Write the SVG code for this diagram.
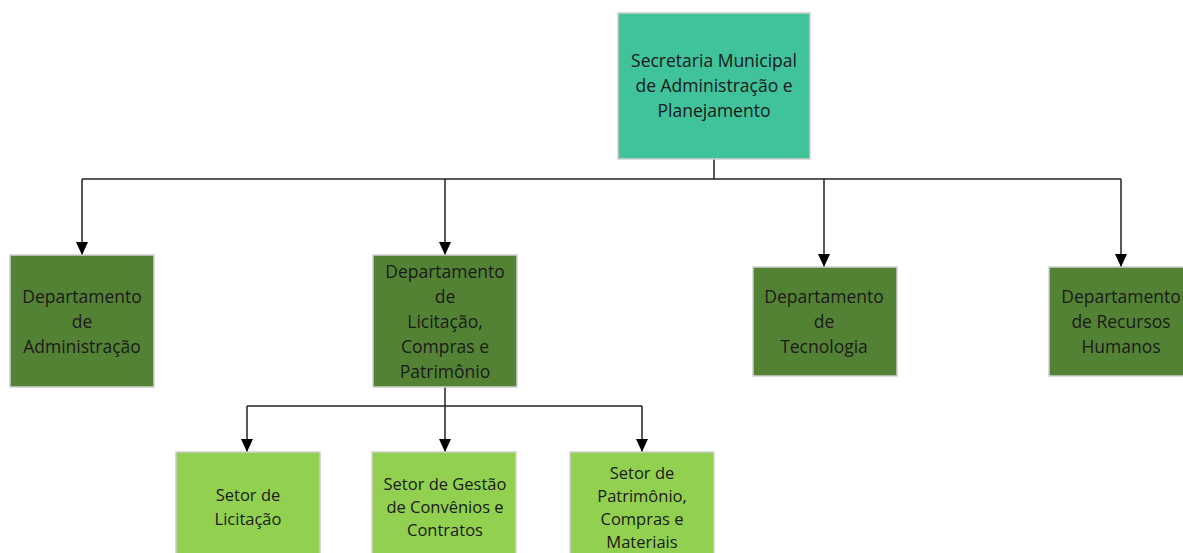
<svg xmlns="http://www.w3.org/2000/svg" width="1183" height="553" viewBox="0 0 1183 553">
<style>
.box{stroke:#d0d0d0;stroke-width:1.5}
.top{fill:#40c29a}
.dept{fill:#548235}
.setor{fill:#92d050}
text{font-family:"Open Sans","Liberation Sans",sans-serif;font-size:17.5px;fill:#1a1a1a;text-anchor:middle}
.s text{font-size:16.5px}
.conn{stroke:#222;stroke-width:1.5;fill:none}
</style>
<defs>
<marker id="a" markerWidth="13" markerHeight="12" refX="13" refY="6" orient="auto" markerUnits="userSpaceOnUse" viewBox="0 0 13 12">
<path d="M0,0 L13,6 L0,12 Z" fill="#000"/>
</marker>
</defs>
<g id="connectors">
<path class="conn" d="M714,159 V179"/>
<path class="conn" d="M82,179 H1121"/>
<path class="conn" d="M82,179 V255" marker-end="url(#a)"/>
<path class="conn" d="M445,179 V255" marker-end="url(#a)"/>
<path class="conn" d="M824,179 V267" marker-end="url(#a)"/>
<path class="conn" d="M1121,179 V267" marker-end="url(#a)"/>
<path class="conn" d="M445,387 V406"/>
<path class="conn" d="M247,406 H642"/>
<path class="conn" d="M247,406 V452" marker-end="url(#a)"/>
<path class="conn" d="M445,406 V452" marker-end="url(#a)"/>
<path class="conn" d="M642,406 V452" marker-end="url(#a)"/>
</g>
<g id="secretaria">
<rect class="box top" x="618" y="13" width="192" height="146"/>
<text x="714" y="67">Secretaria Municipal</text>
<text x="714" y="92">de Administração e</text>
<text x="714" y="117">Planejamento</text>
</g>
<g id="dept-administracao">
<rect class="box dept" x="10" y="255" width="144" height="132"/>
<text x="82" y="303">Departamento</text>
<text x="82" y="328">de</text>
<text x="82" y="353">Administração</text>
</g>
<g id="dept-licitacao">
<rect class="box dept" x="373" y="255" width="144" height="132"/>
<text x="445" y="278">Departamento</text>
<text x="445" y="303">de</text>
<text x="445" y="328">Licitação,</text>
<text x="445" y="353">Compras e</text>
<text x="445" y="378">Patrimônio</text>
</g>
<g id="dept-tecnologia">
<rect class="box dept" x="753" y="267" width="144" height="109"/>
<text x="824" y="303">Departamento</text>
<text x="824" y="328">de</text>
<text x="824" y="353">Tecnologia</text>
</g>
<g id="dept-rh">
<rect class="box dept" x="1049" y="267" width="144" height="109"/>
<text x="1121" y="303">Departamento</text>
<text x="1121" y="328">de Recursos</text>
<text x="1121" y="353">Humanos</text>
</g>
<g id="setor-licitacao" class="s">
<rect class="box setor" x="176" y="452" width="144" height="110"/>
<text x="248" y="501">Setor de</text>
<text x="248" y="525">Licitação</text>
</g>
<g id="setor-gestao" class="s">
<rect class="box setor" x="372" y="452" width="144" height="110"/>
<text x="445" y="490">Setor de Gestão</text>
<text x="445" y="513">de Convênios e</text>
<text x="445" y="536">Contratos</text>
</g>
<g id="setor-patrimonio" class="s">
<rect class="box setor" x="570" y="452" width="144" height="110"/>
<text x="642" y="479">Setor de</text>
<text x="642" y="502">Patrimônio,</text>
<text x="642" y="525">Compras e</text>
<text x="642" y="548">Materiais</text>
</g>
</svg>
